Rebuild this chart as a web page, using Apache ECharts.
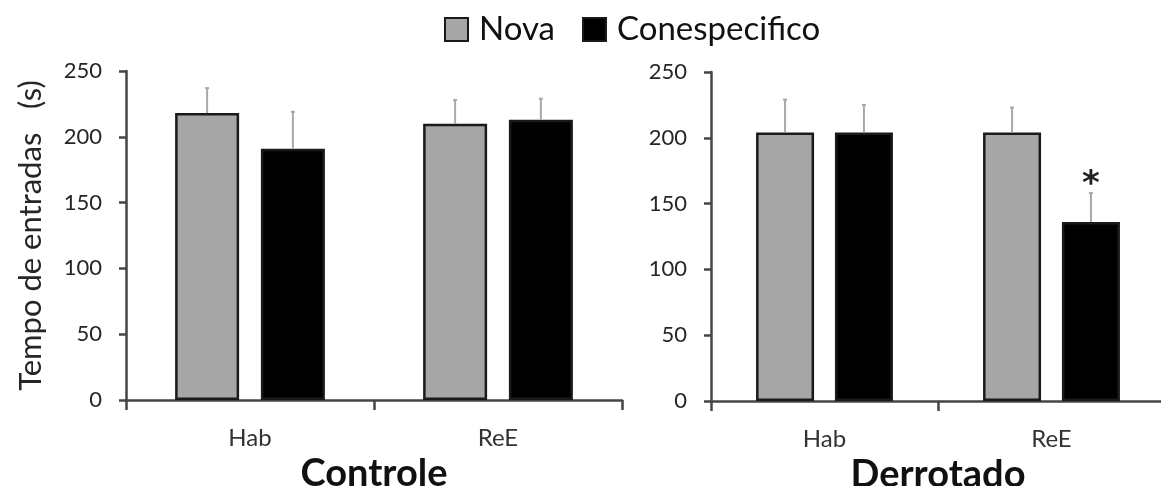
<!DOCTYPE html>
<html>
<head>
<meta charset="utf-8">
<title>Nova x Conespecifico</title>
<script src="https://cdn.jsdelivr.net/npm/echarts@6/dist/echarts.min.js"></script>
<style>
    html, body { margin: 0; padding: 0; background: #fff; }
    #chart { width: 1161px; height: 486px; }
</style>
</head>
<body>
<div id="chart"></div>
<script>
//数据
var categories = ['Hab', 'ReE'];
var legendNames = ['Nova', 'Conespecifico'];
var panelTitles = ['Controle', 'Derrotado'];
var yName = 'Tempo de entradas   (s)';

var controleNova = [218, 210];
var controleNovaErr = [19, 18];
var controleConesp = [191, 213];
var controleConespErr = [28, 16];

var derrotadoNova = [204, 204];
var derrotadoNovaErr = [25, 19];
var derrotadoConesp = [204, 136];
var derrotadoConespErr = [21, 22];
var derrotadoConespSig = [0, 1];   // * marca

var yMin = 0, yMax = 250, yStep = 50;

var FONT = 'Lato';
var AXIS_COLOR = '#454545';
var GRAY = '#a6a6a6';

var chart = echarts.init(document.getElementById('chart'));

//误差线
function errorSeries(name, grid, means, errs, sig, barW, gap, side) {
    var data = means.map(function(m, i) {
        return [i, m, errs[i], sig ? sig[i] : 0];
    });
    return {
        type: 'custom',
        name: name + '-err',
        xAxisIndex: grid,
        yAxisIndex: grid,
        z: 5,
        silent: true,
        data: data,
        renderItem: function(params, api) {
            var base = api.coord([api.value(0), api.value(1)]);
            var top = api.coord([api.value(0), api.value(1) + api.value(2)]);
            var x = base[0] + side * (barW + barW * gap) / 2;
            var children = [{
                type: 'line',
                shape: { x1: x, y1: base[1], x2: x, y2: top[1] },
                style: { stroke: '#a8a8a8', lineWidth: 2 }
            }, {
                type: 'line',
                shape: { x1: x - 2, y1: top[1], x2: x + 2, y2: top[1] },
                style: { stroke: '#a8a8a8', lineWidth: 2 }
            }];
            if (api.value(3)) {
                children.push({
                    type: 'text',
                    x: x,
                    y: top[1] + 9,
                    style: {
                        text: '*',
                        font: 'bold 34px "DejaVu Sans"',
                        fill: '#222',
                        align: 'center',
                        verticalAlign: 'bottom'
                    }
                });
            }
            return { type: 'group', children: children };
        }
    };
}

function barSeries(name, grid, values, color, barW, gap) {
    return {
        type: 'bar',
        name: name,
        xAxisIndex: grid,
        yAxisIndex: grid,
        barWidth: barW,
        barGap: (gap * 100) + '%',
        data: values,
        itemStyle: {
            color: color,
            borderColor: '#1a1a1a',
            borderWidth: 2.5
        }
    };
}

function xAxisFor(grid, title) {
    return {
        type: 'category',
        gridIndex: grid,
        data: categories,
        axisLine: { lineStyle: { color: AXIS_COLOR, width: 2.5 } },
        axisTick: { show: true, length: 10, lineStyle: { color: AXIS_COLOR, width: 2.5 } },
        axisLabel: { color: '#333', fontFamily: FONT, fontSize: 24, margin: 26 },
        name: title,
        nameLocation: 'middle',
        nameGap: 47,
        nameTextStyle: { color: '#111', fontFamily: FONT, fontSize: 38, fontWeight: 'bold' }
    };
}

function yAxisFor(grid, withName) {
    var ax = {
        type: 'value',
        gridIndex: grid,
        min: yMin,
        max: yMax,
        interval: yStep,
        splitLine: { show: false },
        axisLine: { show: true, lineStyle: { color: AXIS_COLOR, width: 2.5 } },
        axisTick: { show: true, length: 7, lineStyle: { color: AXIS_COLOR, width: 2.5 } },
        axisLabel: { color: '#262626', fontFamily: FONT, fontSize: 22, margin: 24 }
    };
    if (withName) {
        ax.name = yName;
        ax.nameLocation = 'middle';
        ax.nameRotate = 90;
        ax.nameGap = 80;
        ax.nameTextStyle = { color: '#262626', fontFamily: FONT, fontSize: 31 };
    }
    return ax;
}

var LW = 64, LG = 0.34;   // controle
var RW = 58, RG = 0.36;   // derrotado

var option = {
    animation: false,
    backgroundColor: '#fff',
    textStyle: { fontFamily: FONT },
    legend: {
        data: legendNames,
        left: 439,
        top: 8,
        icon: 'rect',
        itemWidth: 23,
        itemHeight: 23,
        itemGap: 27,
        textStyle: { fontFamily: FONT, fontSize: 33, color: '#111', padding: [0, 0, 0, 6] }
    },
    grid: [
        { left: 126, top: 71, width: 496, height: 329, outerBoundsMode: 'none' },
        { left: 711, top: 72, width: 454, height: 329, outerBoundsMode: 'none' }
    ],
    xAxis: [xAxisFor(0, panelTitles[0]), xAxisFor(1, panelTitles[1])],
    yAxis: [yAxisFor(0, true), yAxisFor(1, false)],
    series: [
        barSeries(legendNames[0], 0, controleNova, GRAY, LW, LG),
        barSeries(legendNames[1], 0, controleConesp, '#000', LW, LG),
        barSeries(legendNames[0], 1, derrotadoNova, GRAY, RW, RG),
        barSeries(legendNames[1], 1, derrotadoConesp, '#000', RW, RG),
        errorSeries('cn', 0, controleNova, controleNovaErr, null, LW, LG, -1),
        errorSeries('cc', 0, controleConesp, controleConespErr, null, LW, LG, 1),
        errorSeries('dn', 1, derrotadoNova, derrotadoNovaErr, null, RW, RG, -1),
        errorSeries('dc', 1, derrotadoConesp, derrotadoConespErr, derrotadoConespSig, RW, RG, 1)
    ]
};

chart.setOption(option);
</script>
</body>
</html>
